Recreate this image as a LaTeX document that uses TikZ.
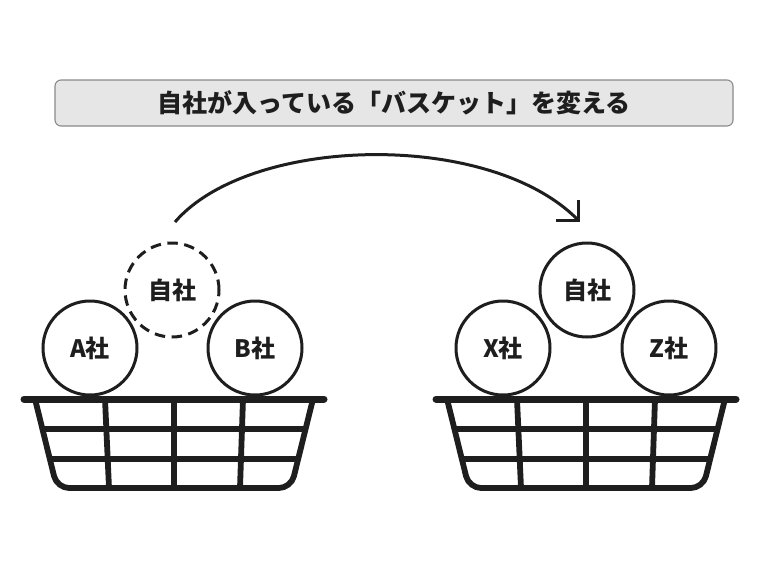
\documentclass[tikz,border=0pt]{standalone}
\usepackage{fontspec}
\newfontfamily\jp{Noto Sans CJK JP}
\definecolor{ink}{HTML}{1E1E1E}
\definecolor{boxfill}{HTML}{E6E6E6}
\definecolor{boxline}{HTML}{8A8A8A}
\tikzset{
  ball/.style={circle, draw=ink, line width=3pt, minimum size=94pt, inner sep=0pt,
    font=\jp\bfseries\fontsize{24}{26}\selectfont, text=ink},
  dashball/.style={ball, dash pattern=on 10.5pt off 6.5pt},
  rimbar/.style={line width=7pt, line cap=round, draw=ink},
  wire/.style={line width=5.8pt, draw=ink},
  titlebox/.style={draw=boxline, fill=boxfill, line width=1.1pt, rounded corners=6pt,
    minimum width=678pt, minimum height=46pt, inner sep=0pt,
    font=\jp\bfseries\fontsize{25}{27}\selectfont, text=ink},
  swing/.style={line width=3pt, draw=ink, line cap=butt},
}
\newcommand\mybasket[2]{%
  \begin{scope}[shift={(#1,0)}]
    \coordinate (#2tl) at (-139,399);
    \coordinate (#2bl) at (-117,488);
    \coordinate (#2br) at (117,488);
    \coordinate (#2tr) at (139,399);
    \draw[wire, rounded corners=12pt, line join=round] (#2tl) -- (#2bl) -- (#2br) -- (#2tr);
    \draw[wire] (-131.6,429) -- (131.6,429);
    \draw[wire] (-124.2,459) -- (124.2,459);
    \draw[wire] (-69,399) -- (-65,488);
    \draw[wire] (0,399) -- (0,488);
    \draw[wire] (69,399) -- (66,488);
    \draw[rimbar] (-150,399) -- (150,399);
  \end{scope}}
\begin{document}
\begin{tikzpicture}[x=1pt,y=-1pt]
\useasboundingbox (0,0) rectangle (760,570);
\node[titlebox] (title) at (394,103) {自社が入っている「バスケット」を変える};
% left basket
\mybasket{174}{L}
\node[ball] (A) at (90,348) {A社};
\node[ball] (B) at (255,348) {B社};
\node[dashball] (selfL) at (172,290) {自社};
% right basket
\mybasket{586}{R}
\node[ball] (X) at (503,348) {X社};
\node[ball] (Z) at (669,348) {Z社};
\node[ball] (selfR) at (587,290) {自社};
% arrow
\coordinate (start) at (175,222);
\coordinate (tip) at (578,220);
\draw[swing] (start) .. controls (250,135) and (490,130) .. (tip);
\draw[swing, line join=miter] ([xshift=-22pt]tip) -- (tip) -- ([yshift=20pt]tip);
\end{tikzpicture}
\end{document}
